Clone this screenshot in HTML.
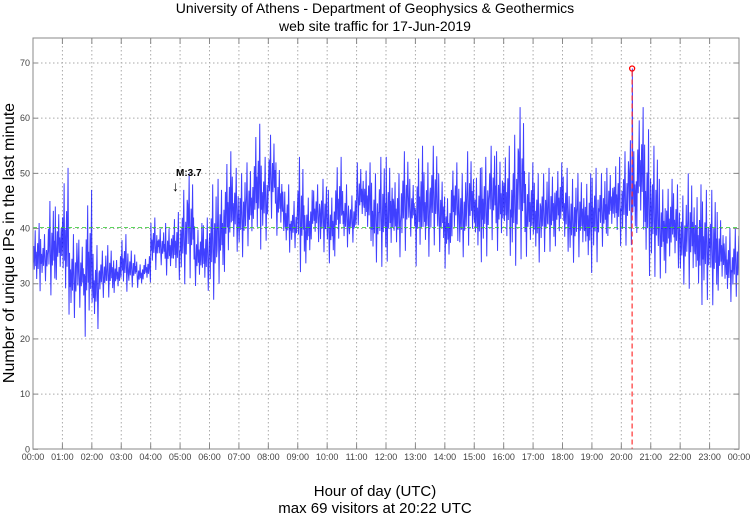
<!DOCTYPE html>
<html><head><meta charset="utf-8">
<style>
html,body{margin:0;padding:0;background:#fff;}
svg{display:block;font-family:"Liberation Sans",sans-serif;}
</style></head>
<body>
<svg id="chart" width="750" height="515" viewBox="0 0 750 515">
<text x="375" y="13" font-size="14" text-anchor="middle">University of Athens - Department of Geophysics &amp; Geothermics</text>
<text x="375" y="31" font-size="14" text-anchor="middle">web site traffic for 17-Jun-2019</text>
<g id="grid"></g>
<g id="series"></g>
<g id="overlay"></g>
<rect x="33" y="38" width="706" height="411" fill="none" stroke="#888" stroke-width="1"/>
<g id="axes"></g>
<text x="375" y="496" font-size="15" text-anchor="middle">Hour of day (UTC)</text>
<text x="375" y="513" font-size="15" text-anchor="middle">max 69 visitors at 20:22 UTC</text>
<text transform="translate(14,243) rotate(-90)" font-size="16" text-anchor="middle">Number of unique IPs in the last minute</text>
</svg>
<script>
// 15-minute bin envelopes (visitors per minute)
const binHigh = [41,39,45,44, 51,39,38,47, 37,36,37,35, 39,36,34,35, 42,40,41,43, 47,50,41,42,
  48,49,54,51, 50,52,59,53, 57,52,48,45, 53,47,48,49, 47,53,48,46, 52,52,50,53,
  53,50,54,49, 55,52,55,50, 47,52,50,54, 51,53,55,54, 55,57,62,52, 50,50,51,52,
  51,49,50,50, 51,50,51,53, 54,56,62,58, 55,49,49,48, 46,50,48,47, 47,43,40,40];
const binLow = [28,30,27,30, 23,23,25,19, 21,27,27,28, 28,29,29,30, 32,33,31,30, 29,30,29,28,
  26,29,31,35, 34,36,35,37, 41,38,35,36, 31,33,37,35, 33,34,36,37, 40,37,33,32,
  33,34,35,38, 32,34,36,35, 32,37,34,36, 33,34,37,35, 34,32,33,34, 33,35,35,36,
  35,33,34,31, 33,36,38,36, 36,36,38,30, 30,30,31,32, 29,28,25,26, 25,28,26,27];
const yTicks = [0,10,20,30,40,50,60,70];
const xTickLabels = ["00:00","01:00","02:00","03:00","04:00","05:00","06:00","07:00","08:00","09:00","10:00","11:00","12:00","13:00","14:00","15:00","16:00","17:00","18:00","19:00","20:00","21:00","22:00","23:00","00:00"];
const meanValue = 40.2;
const maxValue = 69;
const maxMinute = 20*60+22;

const X0=33, X1=739, Y0=449.3, Y70=63;
const xMin = m => X0 + (X1-X0)*m/1440;
const yVal = v => Y0 - (Y0-Y70)*v/70;
const NS="http://www.w3.org/2000/svg";
function mk(tag, attrs, parent){const e=document.createElementNS(NS,tag);for(const k in attrs)e.setAttribute(k,attrs[k]);parent.appendChild(e);return e;}
const grid=document.getElementById('grid'), axes=document.getElementById('axes'), series=document.getElementById('series'), overlay=document.getElementById('overlay');

yTicks.forEach(t=>{
  const y=yVal(t);
  if(t>0){const g=mk('line',{x1:X0,x2:X1,y1:y,y2:y,stroke:'#aaa','stroke-dasharray':'1.5,2.5','stroke-width':1},grid);
  
  }
  mk('line',{x1:X0,x2:X0+5,y1:y,y2:y,stroke:'#888'},axes);
  mk('line',{x1:X1-5,x2:X1,y1:y,y2:y,stroke:'#888'},axes);
  const l=mk('text',{x:X0-3,y:y+3,'font-size':9,'text-anchor':'end',fill:'#444'},axes);
  l.textContent=t;
  
  
});
xTickLabels.forEach((s,i)=>{
  const x=xMin(i*60);
  if(i>0&&i<24){const g=mk('line',{x1:x,x2:x,y1:38,y2:Y0,stroke:'#aaa','stroke-dasharray':'1.5,2.5','stroke-width':1},grid);
  
  }
  mk('line',{x1:x,x2:x,y1:Y0,y2:Y0-6,stroke:'#888'},axes);
  mk('line',{x1:x,x2:x,y1:38,y2:44,stroke:'#888'},axes);
  const l=mk('text',{x:x,y:460,'font-size':9,'text-anchor':'middle',fill:'#444'},axes);
  l.textContent=s;
  
  
});

// series: fixed within-bin oscillation pattern between each bin's low and high
const pat=[0.45,0.68,0.35,0.58,0.9,0.4,0.6,0.22,0.52,0.72,0.36,0.62,1.0,0.44,0.05];
let pts=[];
binHigh.forEach((hi,b)=>{
  const lo=binLow[b];
  for(let k=0;k<15;k++){
    const p=pat[(k+b*4)%15];
    const m=b*15+k;
    const v=(m===maxMinute)?maxValue:lo+(hi-lo)*p;
    pts.push(xMin(m+0.5).toFixed(2)+','+yVal(v).toFixed(2));
  }
});
const line=mk('polyline',{points:pts.join(' '),fill:'none',stroke:'#0000ff','stroke-width':1,'stroke-opacity':0.75},series);



const mean=mk('line',{x1:X0,x2:X1,y1:yVal(meanValue),y2:yVal(meanValue),stroke:'#33cc33','stroke-dasharray':'4,3','stroke-width':1,'stroke-opacity':0.8},overlay);


const mx=xMin(maxMinute);
const vl=mk('line',{x1:mx,x2:mx,y1:yVal(maxValue)+3,y2:Y0,stroke:'#ff3333','stroke-dasharray':'5,3','stroke-width':1.2},overlay);


const c=mk('circle',{cx:mx,cy:yVal(maxValue),r:2.5,fill:'none',stroke:'#ff0000','stroke-width':1.3},overlay);


const ann=mk('text',{x:176,y:176,'font-size':10,'font-weight':'bold'},overlay);
ann.textContent='M:3.7';


const arr=mk('text',{x:172,y:191,'font-size':14},overlay);
arr.textContent='↓';


</script>
</body></html>
